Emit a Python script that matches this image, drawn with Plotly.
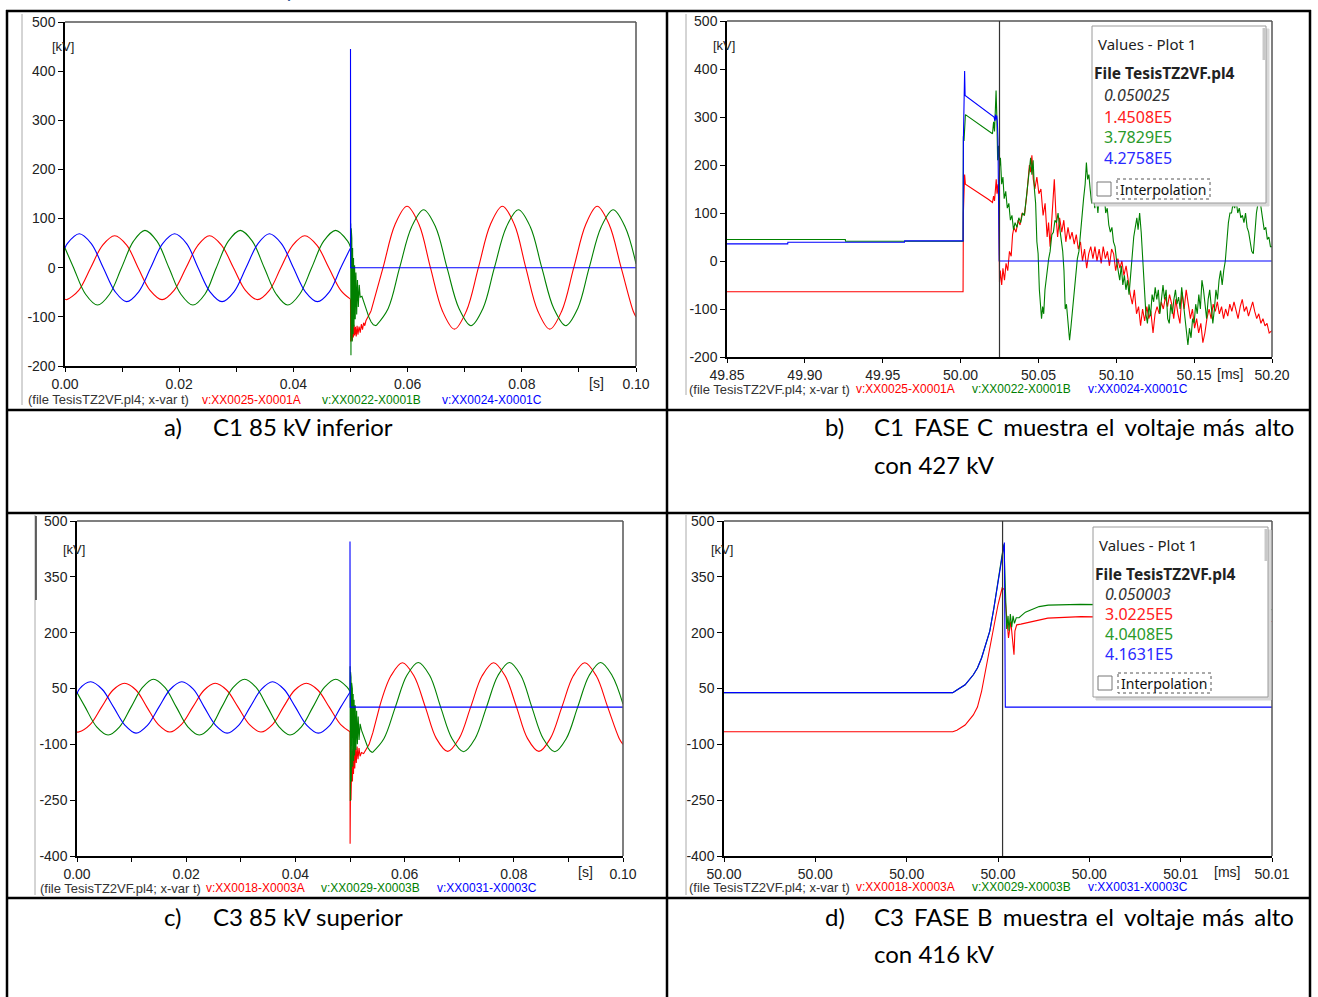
import plotly.graph_objects as go

W, H = 1318, 997

RED = "#ff0000"
GREEN = "#008000"
BLUE = "#0000ff"
AX_FONT = "Liberation Sans, Arial, sans-serif"
BOX_FONT = "Noto Sans, Open Sans, sans-serif"
CAP_FONT = "Lato, Carlito, Calibri, sans-serif"

# ---------------- steady-state time bases (s), shared by panels a) and c) ----------------
t_pre_A = [0.0000, 0.0003, 0.0024, 0.0045, 0.0066, 0.0087, 0.0108, 0.0128, 0.0149, 0.0170,
           0.0191, 0.0212, 0.0233, 0.0253, 0.0274, 0.0295, 0.0316, 0.0337, 0.0358, 0.0378,
           0.0399, 0.0420, 0.0441, 0.0462, 0.0483, 0.0500]
t_pre_B = [0.0000, 0.0015, 0.0036, 0.0057, 0.0078, 0.0099, 0.0120, 0.0140, 0.0161, 0.0182,
           0.0203, 0.0224, 0.0245, 0.0265, 0.0286, 0.0307, 0.0328, 0.0349, 0.0370, 0.0390,
           0.0411, 0.0432, 0.0453, 0.0474, 0.0495, 0.0500]
t_pre_C = [0.0000, 0.0004, 0.0025, 0.0046, 0.0067, 0.0088, 0.0108, 0.0129, 0.0150, 0.0171,
           0.0192, 0.0213, 0.0233, 0.0254, 0.0275, 0.0296, 0.0317, 0.0338, 0.0358, 0.0379,
           0.0400, 0.0421, 0.0442, 0.0463, 0.0483, 0.0500]

# ---------------- a) C1 85 kV inferior (kV) ----------------
a_A_pre = [-64, -65, -46, 0, 46, 65, 46, 0, -46, -65, -46, 0, 46, 65, 46, 0, -46, -65, -46, 0,
           46, 65, 46, 0, -46, -64]
a_B_pre = [40, 0, -54, -76, -54, 0, 54, 76, 54, 0, -54, -76, -54, 0, 54, 76, 54, 0, -54, -76,
           -54, 0, 54, 76, 54, 42]
a_C_pre = [40, 49, 69, 49, 0, -49, -69, -49, 0, 49, 69, 49, 0, -49, -69, -49, 0, 49, 69, 49,
           0, -49, -69, -49, 0, 40]

a_A_tr_t = [0.05000, 0.05002, 0.05006, 0.05010, 0.05015, 0.05020, 0.05026, 0.05033, 0.05040,
            0.05050, 0.05060, 0.05072, 0.05085, 0.05100, 0.05115, 0.05130, 0.05150, 0.05170,
            0.05190, 0.05210, 0.05230, 0.05250, 0.05270, 0.05290, 0.05310, 0.05336, 0.05360]
a_A_tr_v = [-64, -150, -108, -145, -112, -140, -118, -148, -120, -142, -116, -138, -120, -140,
            -118, -136, -120, -132, -115, -126, -112, -118, -108, -104, -100, -94, -88]
a_B_tr_t = [0.05000, 0.05003, 0.05008, 0.05013, 0.05018, 0.05023, 0.05030, 0.05037, 0.05045,
            0.05053, 0.05062, 0.05072, 0.05083, 0.05095, 0.05108, 0.05122, 0.05137, 0.05153,
            0.05170, 0.05200, 0.05240, 0.05280, 0.05320, 0.05360, 0.05400, 0.05450]
a_B_tr_v = [42, 90, -178, 80, -165, 60, -150, 40, -135, 20, -120, 5, -105, -10, -95, -25, -80,
            -35, -60, -58, -72, -88, -100, -110, -116, -118]

a_A_post_t = [0.0536, 0.0557, 0.0578, 0.0599, 0.0620, 0.0640, 0.0661, 0.0682, 0.0703, 0.0724,
              0.0745, 0.0766, 0.0787, 0.0807, 0.0828, 0.0849, 0.0870, 0.0891, 0.0912, 0.0932,
              0.0953, 0.0974, 0.0995, 0.1000]
a_A_post_v = [-88, 0, 88, 125, 88, 0, -88, -125, -88, 0, 88, 125, 88, 0, -88, -125, -88, 0, 88,
              125, 88, 0, -88, -100]
a_B_post_t = [0.0545, 0.0566, 0.0586, 0.0607, 0.0628, 0.0649, 0.0669, 0.0690, 0.0711, 0.0732,
              0.0752, 0.0773, 0.0794, 0.0815, 0.0835, 0.0856, 0.0877, 0.0898, 0.0918, 0.0939,
              0.0960, 0.0981, 0.1000]
a_B_post_v = [-118, -83, 0, 83, 118, 83, 0, -83, -118, -83, 0, 83, 118, 83, 0, -83, -118, -83,
              0, 83, 118, 83, 8]
a_C_post_t = [0.0500, 0.0500, 0.05004, 0.1000]
a_C_post_v = [40, 445, 0, 0]

# ---------------- c) C3 85 kV superior (kV) ----------------
c_A_pre = [-67, -67, -47, 0, 46, 64, 46, 0, -47, -67, -47, 0, 46, 64, 46, 0, -47, -67, -47, 0,
           46, 64, 46, 0, -47, -66]
c_B_pre = [39, 0, -53, -75, -53, 0, 53, 75, 53, 0, -53, -75, -53, 0, 53, 75, 53, 0, -53, -75,
           -53, 0, 53, 75, 53, 42]
c_C_pre = [35, 48, 68, 48, 0, -49, -70, -49, 0, 48, 68, 48, 0, -49, -70, -49, 0, 48, 68, 48,
           0, -49, -70, -49, 0, 40]

c_A_tr_t = [0.05000, 0.05002, 0.05005, 0.05009, 0.05013, 0.05018, 0.05024, 0.05030, 0.05037,
            0.05045, 0.05054, 0.05064, 0.05075, 0.05087, 0.05100, 0.05115, 0.05130, 0.05147,
            0.05165, 0.05185, 0.05210, 0.05250, 0.05280, 0.05350, 0.05420, 0.05480, 0.05540]
c_A_tr_v = [-66, -367, -150, -290, -130, -250, -125, -225, -118, -200, -112, -180, -110, -165,
            -108, -150, -106, -140, -110, -132, -122, -125, -118, -100, -68, -35, 0]
c_B_tr_t = [0.05000, 0.05002, 0.05006, 0.05010, 0.05014, 0.05019, 0.05024, 0.05030, 0.05036,
            0.05043, 0.05050, 0.05058, 0.05066, 0.05075, 0.05085, 0.05096, 0.05108, 0.05121,
            0.05135, 0.05150, 0.05166, 0.05185, 0.05210, 0.05250, 0.05290, 0.05330, 0.05370,
            0.05410]
c_B_tr_v = [42, 110, -252, 95, -225, 80, -200, 65, -180, 50, -160, 35, -145, 20, -130, 5, -115,
            -10, -100, -25, -88, -45, -62, -78, -96, -110, -118, -122]

c_A_post_t = [0.0554, 0.0575, 0.0596, 0.0617, 0.0638, 0.0658, 0.0679, 0.0700, 0.0721, 0.0742,
              0.0763, 0.0784, 0.0805, 0.0825, 0.0846, 0.0867, 0.0888, 0.0909, 0.0930, 0.0951,
              0.0972, 0.0993, 0.1000]
c_A_post_v = [0, 84, 119, 84, 0, -84, -119, -84, 0, 84, 119, 84, 0, -84, -119, -84, 0, 84, 119,
              84, 0, -84, -100]
c_B_post_t = [0.0541, 0.0562, 0.0583, 0.0604, 0.0625, 0.0646, 0.0666, 0.0687, 0.0708, 0.0729,
              0.0750, 0.0771, 0.0792, 0.0813, 0.0833, 0.0854, 0.0875, 0.0896, 0.0917, 0.0938,
              0.0959, 0.0980, 0.1000]
c_B_post_v = [-122, -85, 0, 85, 120, 85, 0, -85, -120, -85, 0, 85, 120, 85, 0, -85, -120, -85,
              0, 85, 120, 85, 8]
c_C_post_t = [0.0500, 0.0500, 0.05004, 0.1000]
c_C_post_v = [40, 445, 0, 0]

# ---------------- b) C1 detail around the fault (time in ms, kV) ----------------
b_A_t = [49.8500, 50.0016, 50.0018, 50.0026, 50.0031, 50.0080, 50.0130, 50.0180, 50.0205,
         50.0212, 50.0218, 50.0225, 50.0229, 50.0234, 50.0240, 50.0246, 50.0250, 50.0255,
         50.0264, 50.0272, 50.0282, 50.0292, 50.0303, 50.0314, 50.0325, 50.0334, 50.0343,
         50.0356, 50.0370, 50.0382, 50.0395, 50.0410, 50.0426, 50.0442, 50.0450, 50.0458,
         50.0467, 50.0477, 50.0490, 50.0503, 50.0516, 50.0530, 50.0543, 50.0556, 50.0565,
         50.0575, 50.0588, 50.0602, 50.0612, 50.0623, 50.0636, 50.0650, 50.0663, 50.0676,
         50.0690, 50.0703, 50.0716, 50.0730, 50.0743, 50.0756, 50.0770, 50.0783, 50.0796,
         50.0810, 50.0823, 50.0836, 50.0850, 50.0863, 50.0876, 50.0890, 50.0903, 50.0916,
         50.0930, 50.0943, 50.0956, 50.0970, 50.0983, 50.0996, 50.1010, 50.1023, 50.1036,
         50.1049, 50.1063, 50.1076, 50.1090, 50.1103, 50.1116, 50.1130, 50.1143, 50.1156,
         50.1169, 50.1182, 50.1196, 50.1209, 50.1222, 50.1236, 50.1249, 50.1262, 50.1276,
         50.1289, 50.1302, 50.1316, 50.1329, 50.1342, 50.1356, 50.1369, 50.1382, 50.1396,
         50.1409, 50.1422, 50.1436, 50.1449, 50.1462, 50.1476, 50.1489, 50.1503, 50.1516,
         50.1529, 50.1543, 50.1556, 50.1569, 50.1582, 50.1596, 50.1609, 50.1622, 50.1636,
         50.1649, 50.1662, 50.1676, 50.1689, 50.1702, 50.1716, 50.1729, 50.1742, 50.1756,
         50.1769, 50.1782, 50.1796, 50.1809, 50.1822, 50.1836, 50.1849, 50.1862, 50.1876,
         50.1889, 50.1902, 50.1915, 50.1929, 50.1942, 50.1955, 50.1968, 50.1982, 50.2000]
b_A_v = [-64, -64, 100, 180, 160, 150, 140, 128, 122,
         135, 125, 150, 170, 140, 160, 120, -45, -20,
         -50, -15, -40, -5, -20, 20, 10, 55, 70,
         60, 85, 75, 100, 95, 140, 200, 185, 220,
         170, 150, 175, 140, 150, 95, 120, 50, 80,
         30, 90, 170, 100, 50, 90, 60, 85, 40,
         70, 45, 60, 35, 55, 25, 40, 0, 25,
         -15, 15, 30, 5, 30, 0, 25, -5, 30,
         5, 20, -10, 25, 15, -20, 5, -15, 0,
         -30, -10, -45, -70, -90, -60, -110, -95, -135,
         -100, -125, -95, -120, -105, -150, -110, -95, -110,
         -85, -100, -75, -95, -70, -90, -120, -80, -110,
         -130, -65, -100, -60, -90, -120, -100, -140, -120,
         -150, -130, -170, -150, -120, -100, -120, -90, -105,
         -85, -110, -95, -120, -100, -115, -90, -105, -85,
         -100, -120, -95, -80, -105, -95, -115, -100, -85,
         -105, -120, -110, -130, -120, -135, -130, -150, -145]

b_B_t = [49.8500, 49.9260, 49.9261, 50.0016, 50.0018, 50.0022, 50.0031, 50.0080, 50.0130,
         50.0180, 50.0205, 50.0212, 50.0218, 50.0224, 50.0228, 50.0233, 50.0238, 50.0244,
         50.0250, 50.0256, 50.0264, 50.0272, 50.0280, 50.0290, 50.0300, 50.0310, 50.0320,
         50.0330, 50.0340, 50.0350, 50.0362, 50.0374, 50.0386, 50.0398, 50.0410, 50.0420,
         50.0432, 50.0442, 50.0450, 50.0458, 50.0466, 50.0474, 50.0482, 50.0490, 50.0498,
         50.0506, 50.0513, 50.0520, 50.0527, 50.0534, 50.0542, 50.0550, 50.0558, 50.0566,
         50.0575, 50.0586, 50.0596, 50.0606, 50.0616, 50.0626, 50.0636, 50.0646, 50.0656,
         50.0664, 50.0672, 50.0680, 50.0690, 50.0700, 50.0708, 50.0716, 50.0724, 50.0732,
         50.0740, 50.0750, 50.0760, 50.0770, 50.0780, 50.0790, 50.0800, 50.0808, 50.0816,
         50.0824, 50.0832, 50.0842, 50.0852, 50.0862, 50.0872, 50.0882, 50.0892, 50.0902,
         50.0912, 50.0922, 50.0932, 50.0942, 50.0952, 50.0962, 50.0972, 50.0982, 50.0992,
         50.1002, 50.1012, 50.1022, 50.1032, 50.1042, 50.1052, 50.1062, 50.1072, 50.1082,
         50.1092, 50.1102, 50.1112, 50.1122, 50.1132, 50.1140, 50.1150, 50.1160, 50.1170,
         50.1180, 50.1190, 50.1200, 50.1210, 50.1220, 50.1230, 50.1240, 50.1250, 50.1260,
         50.1270, 50.1280, 50.1290, 50.1300, 50.1310, 50.1320, 50.1330, 50.1340, 50.1350,
         50.1360, 50.1370, 50.1380, 50.1390, 50.1400, 50.1410, 50.1420, 50.1430, 50.1440,
         50.1450, 50.1460, 50.1470, 50.1480, 50.1490, 50.1500, 50.1510, 50.1520, 50.1530,
         50.1540, 50.1550, 50.1560, 50.1570, 50.1580, 50.1590, 50.1600, 50.1610, 50.1620,
         50.1630, 50.1640, 50.1650, 50.1660, 50.1670, 50.1680, 50.1690, 50.1700, 50.1710,
         50.1720, 50.1730, 50.1740, 50.1750, 50.1760, 50.1770, 50.1780, 50.1790, 50.1800,
         50.1810, 50.1820, 50.1830, 50.1840, 50.1850, 50.1860, 50.1870, 50.1880, 50.1890,
         50.1900, 50.1910, 50.1920, 50.1930, 50.1940, 50.1950, 50.1960, 50.1970, 50.1980,
         50.1990, 50.2000]
b_B_v = [44.7, 44.7, 41, 41, 260, 250, 305, 294, 283,
         272, 265, 290, 270, 320, 355, 300, 210, 240,
         197, 215, 160, 175, 130, 145, 110, 120, 85,
         95, 65, 80, 70, 90, 80, 100, 95, 125,
         160, 200, 215, 180, 210, 150, 120, 40, 15,
         -60, -100, -120, -95, -110, -60, -40, -10, 5,
         20, 55, 60, 85, 80, 100, 70, 40, 20,
         -20, -100, -90, -130, -165, -140, -110, -90, -60,
         -30, 5, 20, 60, 100, 130, 160, 205, 170,
         180, 150, 120, 140, 110, 135, 100, 145, 120,
         180, 140, 100, 110, 75, 60, 70, 40, 30,
         0, -20, -40, -10, -50, -30, -60, -40, -70,
         -30, 10, 50, 70, 90, 65, 100, 60, 0,
         -60, -110, -130, -90, -115, -70, -85, -55, -80,
         -60, -110, -75, -50, -80, -60, -120, -130, -90,
         -110, -80, -60, -90, -75, -100, -55, -85, -120,
         -150, -175, -140, -160, -120, -130, -90, -110, -70,
         -100, -40, -60, -90, -120, -80, -60, -95, -130,
         -100, -60, -80, -40, -20, -50, -20, 0, 40,
         80, 100, 100, 120, 110, 125, 100, 110, 90,
         95, 80, 100, 70, 60, 40, 20, 15, 60,
         100, 120, 140, 110, 90, 65, 70, 45, 50,
         30, 30]

b_C_t = [49.8500, 49.8890, 49.8891, 49.9640, 49.9641, 50.0016, 50.0018, 50.0026, 50.0029,
         50.0100, 50.0180, 50.0215, 50.0220, 50.0224, 50.0228, 50.0232, 50.0236, 50.0240,
         50.0248, 50.2000]
b_C_v = [35.7, 35.7, 39, 39, 42, 42, 250, 396, 345,
         328, 310, 300, 292, 305, 295, 303, 290, 255,
         0, 0]

# ---------------- d) C3 detail around the fault (time in ms, kV) ----------------
d_A_t = [49.9968, 50.00181, 50.00190, 50.00208, 50.00226, 50.00235, 50.00244, 50.00253,
         50.00262, 50.00271, 50.00280, 50.00289, 50.00294, 50.00298, 50.00303, 50.00308,
         50.00312, 50.00315, 50.00317, 50.00321, 50.00330, 50.00353, 50.00389, 50.00462,
         50.00600, 50.00750, 50.00880]
d_A_v = [-66, -66, -62, -48, -21, 0, 42, 100,
         159, 220, 275, 320, 316, 257, 186, 230,
         168, 141, 204, 221, 223, 230, 239, 243,
         240, 234, 230]
d_B_t = [49.9968, 50.00181, 50.00190, 50.00208, 50.00226, 50.00235, 50.00244, 50.00253,
         50.00262, 50.00271, 50.00280, 50.00289, 50.00293, 50.00296, 50.00299, 50.00302,
         50.00304, 50.00307, 50.00310, 50.00313, 50.00316, 50.00320, 50.00326, 50.00340,
         50.00353, 50.00370, 50.00390, 50.00460, 50.00600, 50.00750, 50.00880]
d_B_v = [39, 39, 46, 60, 87, 105, 132, 168,
         204, 266, 345, 410, 437, 300, 210, 245,
         205, 250, 215, 245, 225, 240, 240, 255,
         262, 270, 274, 276, 274, 268, 262]
d_C_t = [49.9968, 50.00181, 50.00190, 50.00208, 50.00226, 50.00235, 50.00244, 50.00253,
         50.00262, 50.00271, 50.00280, 50.00289, 50.00294, 50.00296, 50.00880]
d_C_v = [39, 39, 46, 60, 87, 105, 132, 168,
         204, 266, 338, 401, 442, 0, 0]

# cursor positions and readouts
b_cursor = 50.025
d_cursor = 50.0029
b_readout = ["0.050025", "1.4508E5", "3.7829E5", "4.2758E5"]
d_readout = ["0.050003", "3.0225E5", "4.0408E5", "4.1631E5"]

# axis ticks
s_ticks = [0.00, 0.01, 0.02, 0.03, 0.04, 0.05, 0.06, 0.07, 0.08, 0.09, 0.10]
s_ticktext = ["0.00", "", "0.02", "", "0.04", "", "0.06", "", "0.08", "", "0.10"]
b_ticks = [49.85, 49.90, 49.95, 50.00, 50.05, 50.10, 50.15, 50.20]
b_ticktext = ["49.85", "49.90", "49.95", "50.00", "50.05", "50.10", "50.15", "50.20"]
d_ticks = [49.9968, 49.9988, 50.0008, 50.0028, 50.0048, 50.0068, 50.0088]
d_ticktext = ["50.00", "50.00", "50.00", "50.00", "50.00", "50.01", "50.01"]
y_ticks_ab = [-200, -100, 0, 100, 200, 300, 400, 500]
y_ticks_cd = [-400, -250, -100, 50, 200, 350, 500]

a_names = ["v:XX0025-X0001A", "v:XX0022-X0001B", "v:XX0024-X0001C"]
c_names = ["v:XX0018-X0003A", "v:XX0029-X0003B", "v:XX0031-X0003C"]

captions = [
    ("a)", "C1 85 kV inferior", None, 162, 427),
    ("b)", "C1 FASE C muestra el voltaje más alto", "con 427 kV", 823, 427),
    ("c)", "C3 85 kV superior", None, 162, 916),
    ("d)", "C3 FASE B muestra el voltaje más alto", "con 416 kV", 823, 916),
]


def px(x):
    return x / W


def py(y):
    return 1 - y / H


fig = go.Figure()


def line(ax, t, v, color, shape="linear"):
    fig.add_trace(go.Scatter(x=t, y=v, mode="lines", xaxis="x" + ax, yaxis="y" + ax,
                             line=dict(color=color, width=1.1, shape=shape),
                             hoverinfo="skip", showlegend=False))


# a)
line("", t_pre_A, a_A_pre, RED, "spline")
line("", a_A_tr_t, a_A_tr_v, RED)
line("", a_A_post_t, a_A_post_v, RED, "spline")
line("", t_pre_B, a_B_pre, GREEN, "spline")
line("", a_B_tr_t, a_B_tr_v, GREEN)
line("", a_B_post_t, a_B_post_v, GREEN, "spline")
line("", t_pre_C, a_C_pre, BLUE, "spline")
line("", a_C_post_t, a_C_post_v, BLUE)
# b)
line("2", b_A_t, b_A_v, RED)
line("2", b_B_t, b_B_v, GREEN)
line("2", b_C_t, b_C_v, BLUE)
# c)
line("3", t_pre_A, c_A_pre, RED, "spline")
line("3", c_A_tr_t, c_A_tr_v, RED)
line("3", c_A_post_t, c_A_post_v, RED, "spline")
line("3", t_pre_B, c_B_pre, GREEN, "spline")
line("3", c_B_tr_t, c_B_tr_v, GREEN)
line("3", c_B_post_t, c_B_post_v, GREEN, "spline")
line("3", t_pre_C, c_C_pre, BLUE, "spline")
line("3", c_C_post_t, c_C_post_v, BLUE)
# d)
line("4", d_A_t, d_A_v, RED)
line("4", d_B_t, d_B_v, GREEN)
line("4", d_C_t, d_C_v, BLUE)

TICK_FONT = dict(family=AX_FONT, size=14, color="#222")


def xaxis(dom, rng, ticks, text, anchor):
    return dict(domain=[px(dom[0]), px(dom[1])], range=rng, tickvals=ticks, ticktext=text,
                anchor=anchor, showgrid=False, zeroline=False, showline=True,
                linecolor="#000", linewidth=1.5, ticks="outside", ticklen=4,
                tickcolor="#000", tickwidth=1, tickangle=0, fixedrange=True,
                automargin=False, tickfont=TICK_FONT)


def yaxis(dom, rng, ticks, anchor):
    return dict(domain=[py(dom[1]), py(dom[0])], range=rng, tickvals=ticks,
                ticktext=[str(v) for v in ticks], anchor=anchor, showgrid=False,
                zeroline=False, showline=True, linecolor="#000", linewidth=1.5,
                ticks="outside", ticklen=5, tickcolor="#000", tickwidth=1, fixedrange=True,
                automargin=False, tickfont=TICK_FONT)


layout = dict(
    width=W, height=H, margin=dict(l=0, r=0, t=0, b=0, pad=0, autoexpand=False),
    paper_bgcolor="white", plot_bgcolor="white", showlegend=False,
    xaxis=xaxis((65, 636), [0, 0.1], s_ticks, s_ticktext, "y"),
    yaxis=yaxis((22, 366), [-200, 500], y_ticks_ab, "x"),
    xaxis2=xaxis((727, 1272), [49.85, 50.20], b_ticks, b_ticktext, "y2"),
    yaxis2=yaxis((21, 357), [-200, 500], y_ticks_ab, "x2"),
    xaxis3=xaxis((77, 623), [0, 0.1], s_ticks, s_ticktext, "y3"),
    yaxis3=yaxis((521, 856), [-400, 500], y_ticks_cd, "x3"),
    xaxis4=xaxis((724, 1272), [49.9968, 50.0088], d_ticks, d_ticktext, "y4"),
    yaxis4=yaxis((521, 856), [-400, 500], y_ticks_cd, "x4"),
)

shapes = []
annotations = []


def seg(x0, y0, x1, y1, color="#000", width=1, dash="solid"):
    shapes.append(dict(type="line", xref="paper", yref="paper", x0=px(x0), y0=py(y0),
                       x1=px(x1), y1=py(y1), layer="above",
                       line=dict(color=color, width=width, dash=dash)))


def rect(x0, y0, x1, y1, fill="white", color="#999", width=1, dash="solid"):
    shapes.append(dict(type="rect", xref="paper", yref="paper", x0=px(x0), y0=py(y0),
                       x1=px(x1), y1=py(y1), layer="above", fillcolor=fill,
                       line=dict(color=color, width=width, dash=dash)))


def text(x, y, s, size=13, color="#222", family=AX_FONT, anchor="left"):
    annotations.append(dict(xref="paper", yref="paper", x=px(x), y=py(y), text=s,
                            showarrow=False, xanchor=anchor, yanchor="middle",
                            font=dict(family=family, size=size, color=color)))


# top and right frame of every plot area
for ax in ["", "2", "3", "4"]:
    shapes.append(dict(type="line", xref="x" + ax + " domain", yref="y" + ax + " domain",
                       x0=0, x1=1, y0=1, y1=1, line=dict(color="#555", width=1.5)))
    shapes.append(dict(type="line", xref="x" + ax + " domain", yref="y" + ax + " domain",
                       x0=1, x1=1, y0=0, y1=1, line=dict(color="#555", width=1.5)))

# cursors
shapes.append(dict(type="line", xref="x2", yref="y2 domain", x0=b_cursor, x1=b_cursor,
                   y0=0, y1=1, layer="above", line=dict(color="#333", width=1.2)))
shapes.append(dict(type="line", xref="x4", yref="y4 domain", x0=d_cursor, x1=d_cursor,
                   y0=0, y1=1, layer="above", line=dict(color="#333", width=1.2)))

# window edges at the left of each screenshot
seg(22, 14, 22, 405, "#aaa", 1)
seg(686, 14, 686, 395, "#aaa", 1)
seg(35, 515, 35, 895, "#aaa", 1)
seg(36, 516, 36, 600, "#333", 1.5)
seg(686, 515, 686, 895, "#aaa", 1)

# axis captions
text(50, 47, "[kV]", 13)
text(711, 45, "[kV]", 13)
text(61, 549, "[kV]", 13)
text(709, 549, "[kV]", 13)
text(596, 383, "[s]", 14, anchor="center")
text(585, 872, "[s]", 14, anchor="center")
text(1230, 374, "[ms]", 14, anchor="center")
text(1227, 872, "[ms]", 14, anchor="center")

# trace name lines under the plots
for x0, y0, names, xs in [(26, 400, a_names, (200, 320, 440)),
                          (687, 389, a_names, (854, 970, 1086)),
                          (38, 888, c_names, (204, 319, 435)),
                          (687, 887, c_names, (854, 970, 1086))]:
    text(x0, y0, "(file TesisTZ2VF.pl4; x-var t)", 13, "#333")
    for nm, xx, col in zip(names, xs, [RED, GREEN, BLUE]):
        text(xx, y0, nm, 12, col)


# value readout boxes
def readout(x0, y0, x1, y1, rows, vals):
    rect(x0 + 3, y0 + 3, x1 + 3, y1 + 3, "#d8d8d8", "#d8d8d8", 1)
    rect(x0, y0, x1, y1, "white", "#9a9a9a", 1)
    seg(x1 - 2, y0 + 2, x1 - 2, y0 + 34, "#c8c8c8", 3)
    text(x0 + 4, rows[0], "Values - Plot 1", 15, "#222", BOX_FONT)
    text(x0, rows[1], "<b>File TesisTZ2VF.pl4</b>", 15.5, "#222", BOX_FONT)
    for val, yy, col in zip(vals, rows[2:6], ["#333", "#ff2020", "#2a9a2a", "#2a2aff"]):
        s = "<i>" + val + "</i>" if val.startswith("0.") else val
        text(x0 + 10, yy, s, 16, col, BOX_FONT)
    rect(x0 + 5, rows[6] - 7, x0 + 19, rows[6] + 7, "white", "#777", 1)
    rect(x0 + 25, rows[6] - 10, x0 + 118, rows[6] + 10, "rgba(0,0,0,0)", "#555", 1, "dot")
    text(x0 + 26, rows[6], "Interpolation", 14, "#111", BOX_FONT)


readout(1092, 26, 1266, 203, [44, 73, 95, 117, 137, 158, 189], b_readout)
readout(1093, 527, 1268, 697, [545, 574, 594, 614, 634, 654, 683], d_readout)

# table rules
for yy in (11, 410, 513, 898):
    seg(6, yy, 1311, yy, "#000", 2.5)
for xx in (7, 667, 1310):
    seg(xx, 10, xx, 997, "#000", 2.5)


# captions under each plot (first line of b) and d) is justified in the source table)
def justify(s):
    gaps = ["\u2006", "\u200a", "\u2006", "\u200a", "\u2006", "\u200a"]
    words = s.split(" ")
    out = words[0]
    for i, w in enumerate(words[1:]):
        out += " " + gaps[i % len(gaps)] + w
    return out


for tag, line1, line2, x0, y0 in captions:
    text(x0, y0, tag, 24, "#000", CAP_FONT)
    body = justify(line1) if line2 else line1
    text(x0 + 49, y0, body, 24, "#000", CAP_FONT)
    if line2:
        text(x0 + 49, y0 + 37, line2, 24, "#000", CAP_FONT)

# tail of the heading line above the table
annotations.append(dict(xref="paper", yref="paper", x=px(291), y=py(4), text="y",
                        showarrow=False, xanchor="center", yanchor="bottom",
                        font=dict(family=CAP_FONT, size=22, color="#2f5496")))

layout["shapes"] = shapes
layout["annotations"] = annotations
fig.update_layout(**layout)
fig.write_html("out.html")
